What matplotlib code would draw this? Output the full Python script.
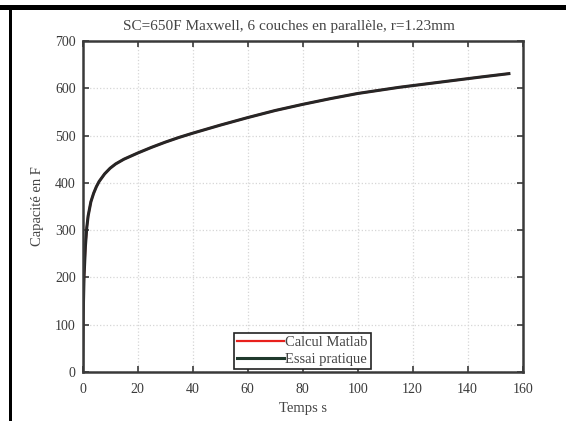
import matplotlib
matplotlib.use('Agg')
import matplotlib.pyplot as plt
from matplotlib.patches import Rectangle
import numpy as np

temps = [0, 0.2, 0.5, 1, 1.5, 2, 3, 4, 5, 6, 8, 10, 12, 15, 20, 25, 30, 35, 40, 50, 60,
         70, 80, 90, 100, 115, 130, 145, 155]
capacite = [0, 120, 200, 265, 305, 330, 360, 378, 392, 403, 419, 431, 440, 450, 463,
            475, 486, 496, 505, 522, 538, 553, 566, 578, 589, 602, 613, 624, 631]

titre = 'SC=650F Maxwell, 6 couches en parallèle, r=1.23mm'
xticks = np.arange(0, 161, 20)
yticks = np.arange(0, 701, 100)

plt.rcParams['font.family'] = ['Liberation Serif', 'DejaVu Serif']

fig = plt.figure(figsize=(5.66, 4.21), dpi=100)
ax = fig.add_axes([0.146, 0.1164, 0.7774, 0.7862])

ax.plot(temps, capacite, color='#e8201c', lw=1.6, label='Calcul Matlab')
ax.plot(temps, capacite, color='#262626', lw=2.2, label='Essai pratique')

ax.set_xlim(0, 160)
ax.set_ylim(0, 700)
ax.set_xticks(xticks)
ax.set_yticks(yticks)
ax.grid(True, color='#d6d6d6', linestyle=':', linewidth=0.9)
ax.tick_params(direction='in', top=True, right=True, labelsize=10, colors='#3a3a3a',
               length=4, width=1.2)
ax.tick_params(axis='x', pad=8)
ax.tick_params(axis='y', pad=5)
for s in ax.spines.values():
    s.set_linewidth(1.8)
    s.set_color('#3a3a3a')

ax.set_title(titre, fontsize=11, color='#444444', pad=8, x=0.468)
ax.set_xlabel('Temps s', fontsize=10.5, color='#444444', labelpad=4)
ax.set_ylabel('Capacité en F', fontsize=10.5, color='#444444', labelpad=8)

leg = ax.legend(loc='lower center', bbox_to_anchor=(0.5, -0.012), fontsize=10.5,
                handlelength=3.2, handletextpad=0.1, borderpad=0.2,
                labelspacing=0.25, fancybox=False, framealpha=1)
leg.get_frame().set_edgecolor('#222222')
leg.get_frame().set_linewidth(1.2)
leg.legend_handles[1].set_color('#1f3a2c')
for t in leg.get_texts():
    t.set_color('#444444')

# cadre noir autour de la figure (haut et gauche)
fig.add_artist(Rectangle((0, 1 - 10 / 421), 1, 4.5 / 421, transform=fig.transFigure,
                         color='black', lw=0))
fig.add_artist(Rectangle((9 / 566, 0), 2.5 / 566, 1 - 10 / 421, transform=fig.transFigure,
                         color='black', lw=0))

fig.savefig('out.png', dpi=100)
